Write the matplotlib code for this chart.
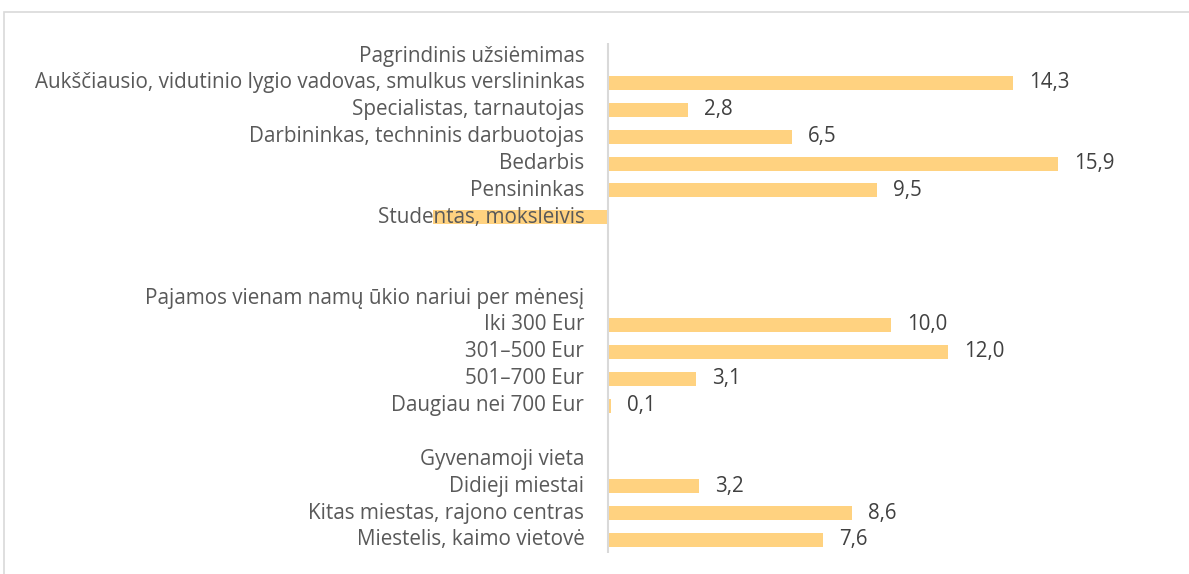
import matplotlib.pyplot as plt
from matplotlib.patches import Rectangle

plt.rcParams["font.family"] = ["Open Sans", "DejaVu Sans"]

COR_BARRA = "#FFD280"
COR_TEXTO = "#595959"
COR_VALOR = "#404040"
COR_LINHA = "#D9D9D9"

# eilutės (tuščia = tarpas)
etiketes = [
    "Pagrindinis užsiėmimas",
    "Aukščiausio, vidutinio lygio vadovas, smulkus verslininkas",
    "Specialistas, tarnautojas",
    "Darbininkas, techninis darbuotojas",
    "Bedarbis",
    "Pensininkas",
    "Studentas, moksleivis",
    "",
    "",
    "Pajamos vienam namų ūkio nariui per mėnesį",
    "Iki 300 Eur",
    "301–500 Eur",
    "501–700 Eur",
    "Daugiau nei 700 Eur",
    "",
    "Gyvenamoji vieta",
    "Didieji miestai",
    "Kitas miestas, rajono centras",
    "Miestelis, kaimo vietovė",
]

reiksmes = [
    None, 14.3, 2.8, 6.5, 15.9, 9.5, -6.2,
    None, None,
    None, 10.0, 12.0, 3.1, 0.1,
    None,
    None, 3.2, 8.6, 7.6,
]

# reikšmių etiketės (studentų eilutėje nerodoma)
rodyti = [
    False, True, True, True, True, True, False,
    False, False,
    False, True, True, True, True,
    False,
    False, True, True, True,
]

fig = plt.figure(figsize=(11.89, 5.74), dpi=100)
fig.patches.append(Rectangle((4 / 1189, -0.01), 1.2, 1 - 12 / 574 + 0.01,
                             transform=fig.transFigure, fill=False,
                             edgecolor=COR_LINHA, linewidth=1.2))

ax = fig.add_axes([433 / 1189, 1 - 553.4 / 574, (1150 - 433) / 1189, (553.4 - 42.6) / 574])

for i, (lab, val, show) in enumerate(zip(etiketes, reiksmes, rodyti)):
    if val is not None:
        ax.barh(i, val, height=0.52, color=COR_BARRA, zorder=1)
        if show:
            ax.annotate(f"{val:.1f}".replace(".", ","), (max(val, 0), i),
                        xytext=(16, 0), textcoords="offset pixels",
                        va="center", ha="left", fontsize=14.8, color=COR_VALOR)
    ax.annotate(lab, (0, i), xytext=(-24, 0), textcoords="offset pixels",
                va="center", ha="right", fontsize=14.9, color=COR_TEXTO, zorder=5)

ax.axvline(0, color=COR_LINHA, linewidth=1.5, zorder=2)

ax.set_xlim(-6.2, (1150 - 608) / 28.3)
ax.set_ylim(18.5, -0.5)
ax.axis("off")

plt.savefig("out.png", dpi=100)
